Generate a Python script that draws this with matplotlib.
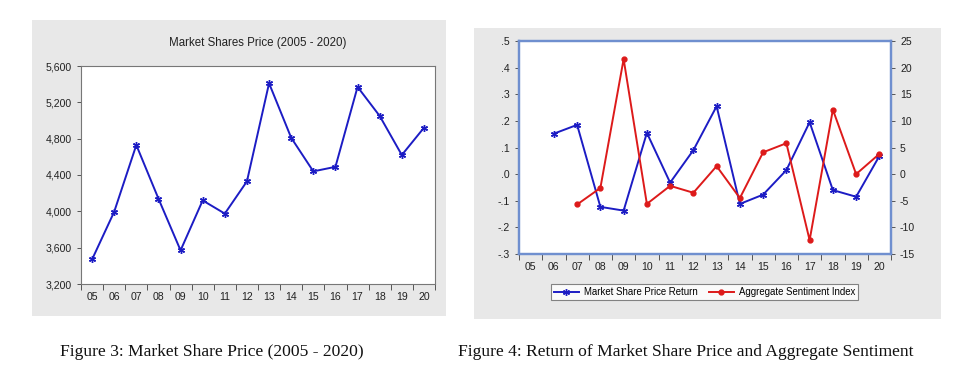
import matplotlib.pyplot as plt
from matplotlib.patches import Rectangle
from matplotlib.ticker import FuncFormatter, FixedLocator

years = ["05", "06", "07", "08", "09", "10", "11", "12", "13", "14", "15", "16", "17", "18", "19", "20"]
price = [3470, 3995, 4730, 4140, 3570, 4120, 3975, 4330, 5410, 4810, 4440, 4490, 5370, 5050, 4620, 4920]
ret = [None, 0.152, 0.185, -0.123, -0.137, 0.155, -0.032, 0.090, 0.255, -0.112, -0.077, 0.015, 0.195, -0.060, -0.085, 0.068]
sentiment = [None, None, -5.7, -2.6, 21.6, -5.6, -2.2, -3.5, 1.5, -4.5, 4.1, 5.8, -12.4, 12.1, 0.0, 3.8]

W, H = 968, 390
plt.rcParams["font.family"] = ["Liberation Sans", "DejaVu Sans"]
plt.rcParams["axes.unicode_minus"] = False
fig = plt.figure(figsize=(W / 100, H / 100), dpi=100)
fig.patch.set_facecolor("white")


def fr(x0, y0, x1, y1):
    # pixel box (top-left origin) -> figure fraction rect
    return [x0 / W, 1 - y1 / H, (x1 - x0) / W, (y1 - y0) / H]


# gray panel backgrounds
for x0, y0, x1, y1 in [(32, 20, 446, 316), (474, 28, 941, 319)]:
    r = fr(x0, y0, x1, y1)
    fig.patches.append(Rectangle((r[0], r[1]), r[2], r[3], transform=fig.transFigure,
                                 facecolor="#e8e8e8", edgecolor="none", zorder=-5))

xs = list(range(len(years)))
blue = "#1c1cc4"
red = "#dd1a1a"
TS = 7.6


def cat_axis(ax, color):
    ax.set_xlim(-0.5, len(years) - 0.5)
    ax.xaxis.set_major_locator(FixedLocator(xs))
    ax.set_xticklabels(years, fontsize=TS, color="#222222")
    ax.xaxis.set_minor_locator(FixedLocator([i - 0.5 for i in range(len(years) + 1)]))
    ax.tick_params(axis="x", which="major", length=0, pad=6)
    ax.tick_params(axis="x", which="minor", length=4, width=0.7, color=color)


# ---- Figure 3 ----
ax1 = fig.add_axes(fr(81, 66, 435, 284))
ax1.plot(xs, price, color=blue, lw=1.4, marker=(6, 2, 0), ms=5, mew=1.0)
cat_axis(ax1, "#555555")
ax1.set_ylim(3200, 5600)
ax1.set_yticks(range(3200, 5601, 400))
ax1.yaxis.set_major_formatter(FuncFormatter(lambda v, p: f"{int(v):,}"))
ax1.tick_params(axis="y", length=3, width=0.7, labelsize=TS, color="#555555", labelcolor="#222222")
for s in ax1.spines.values():
    s.set_color("#777777")
    s.set_linewidth(0.8)
fig.text(258 / W, 1 - 43 / H, "Market Shares Price (2005 - 2020)", ha="center", va="center",
         fontsize=8.3, color="#222222")

# ---- Figure 4 ----
ax2 = fig.add_axes(fr(519, 41, 891, 254))
l1, = ax2.plot(xs, [v if v is not None else float("nan") for v in ret], color=blue, lw=1.4,
               marker=(6, 2, 0), ms=5, mew=1.0, label="Market Share Price Return")
cat_axis(ax2, "#555555")
ax2.set_ylim(-0.3, 0.5)
ax2.set_yticks([0.5, 0.4, 0.3, 0.2, 0.1, 0.0, -0.1, -0.2, -0.3])
ax2.yaxis.set_major_formatter(FuncFormatter(lambda v, p: f"{v:.1f}".replace("0.", ".")))
ax2.tick_params(axis="y", length=3, width=0.7, labelsize=TS, color="#555555", labelcolor="#222222")

ax3 = ax2.twinx()
l2, = ax3.plot(xs, [v if v is not None else float("nan") for v in sentiment], color=red, lw=1.4,
               marker="o", ms=3.5, label="Aggregate Sentiment Index")
ax3.set_ylim(-15, 25)
ax3.set_yticks(range(-15, 26, 5))
ax3.tick_params(axis="y", length=3, width=0.7, labelsize=TS, color="#555555", labelcolor="#222222")
for a in (ax2, ax3):
    for s in a.spines.values():
        s.set_color("#6f8fcf")
        s.set_linewidth(1.6)

leg = fig.legend(handles=[l1, l2], loc="center", bbox_to_anchor=(704.5 / W, 1 - 292 / H), ncol=2,
                 fontsize=6.9, frameon=True, fancybox=False, handlelength=2.6, columnspacing=1.2,
                 handletextpad=0.5, borderpad=0.35)
leg.get_frame().set_edgecolor("#666666")
leg.get_frame().set_linewidth(0.8)

# captions
fig.text(212 / W, 1 - 352 / H, "Figure 3: Market Share Price (2005 - 2020)", ha="center", va="center",
         fontsize=12.6, family=["Liberation Serif", "DejaVu Serif"], color="#111111")
fig.text(686 / W, 1 - 352 / H, "Figure 4: Return of Market Share Price and Aggregate Sentiment", ha="center",
         va="center", fontsize=12.6, family=["Liberation Serif", "DejaVu Serif"], color="#111111")

fig.savefig("out.png", dpi=100)
